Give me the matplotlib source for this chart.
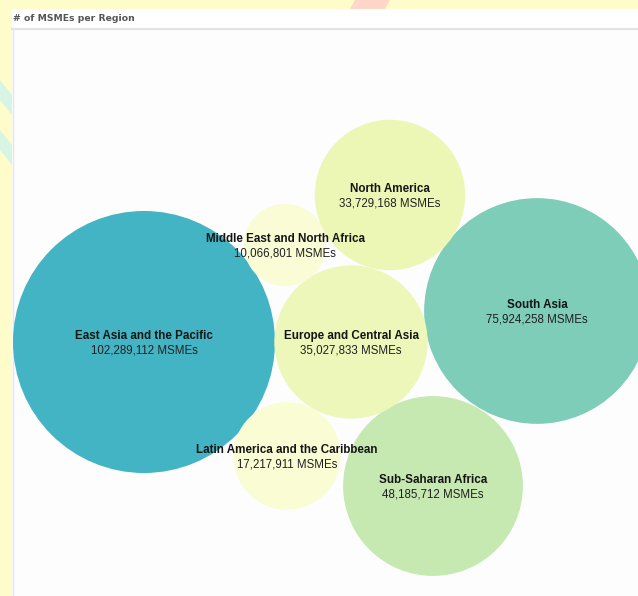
import numpy as np
import matplotlib
matplotlib.use("Agg")
import matplotlib.pyplot as plt
from matplotlib.patches import Circle, Rectangle, Polygon

# data
regions = ["East Asia and the Pacific", "South Asia", "Sub-Saharan Africa",
           "Europe and Central Asia", "North America",
           "Latin America and the Caribbean", "Middle East and North Africa"]
msmes = [102289112, 75924258, 48185712, 35027833, 33729168, 17217911, 10066801]
colors = ["#42B4C3", "#7DCDB9", "#C6E9B1", "#EDF7BA", "#EDF7B5", "#FAFDD3", "#F9FCD4"]

# packed layout (bubble centres, pixel space)
centres = [(144, 342), (537, 311), (433, 486), (351, 342), (390, 195),
           (287, 456), (285, 245)]

W, H = 638, 596
fig = plt.figure(figsize=(W / 100, H / 100), dpi=100)
fig.patch.set_facecolor("#FFFCCC")

ax = fig.add_axes([0, 0, 1, 1])
ax.set_xlim(0, W)
ax.set_ylim(H, 0)
ax.axis("off")

# faint page decorations behind the panel
ax.add_patch(Polygon([(355, 0), (390, 0), (385, 9), (350, 9)], closed=True,
                     facecolor="#FFD6C8", edgecolor="none", zorder=0))
for y0 in (80, 130):
    ax.add_patch(Polygon([(0, y0), (12, y0 + 15), (12, y0 + 35), (0, y0 + 20)],
                         closed=True, facecolor="#D6F5E3", edgecolor="none", zorder=0))

# panel
ax.add_patch(Rectangle((12, 9), W - 12, H - 9, facecolor="#FDFDFD",
                       edgecolor="none", zorder=1))
ax.add_patch(Rectangle((12, 9), W - 12, 19, facecolor="white",
                       edgecolor="none", zorder=1))
ax.plot([12, W], [28.5, 28.5], color="#E3E3E3", lw=1.5, zorder=2)
ax.plot([12.5, 12.5], [28, H], color="#E6E6E6", lw=1, zorder=2)
ax.text(13, 18.5, "# of MSMEs per Region", fontsize=6.7, fontweight="bold",
        color="#555555", family="DejaVu Sans", ha="left", va="center", zorder=3)

# bubbles, area proportional to value
k = 131 / np.sqrt(max(msmes))
for name, val, col, (cx, cy) in zip(regions, msmes, colors, centres):
    r = k * np.sqrt(val)
    ax.add_patch(Circle((cx, cy), r, facecolor=col, edgecolor="none", zorder=3))

for name, val, (cx, cy) in zip(regions, msmes, centres):
    ax.text(cx, cy - 6, name, fontsize=8.4, fontweight="bold",
            family="Liberation Sans", color="#151515", ha="center", va="center", zorder=5)
    ax.text(cx, cy + 8.5, f"{val:,} MSMEs", fontsize=8.3,
            family="Liberation Sans", color="#202020", ha="center", va="center", zorder=5)

fig.savefig("out.png", dpi=100, facecolor=fig.get_facecolor())
